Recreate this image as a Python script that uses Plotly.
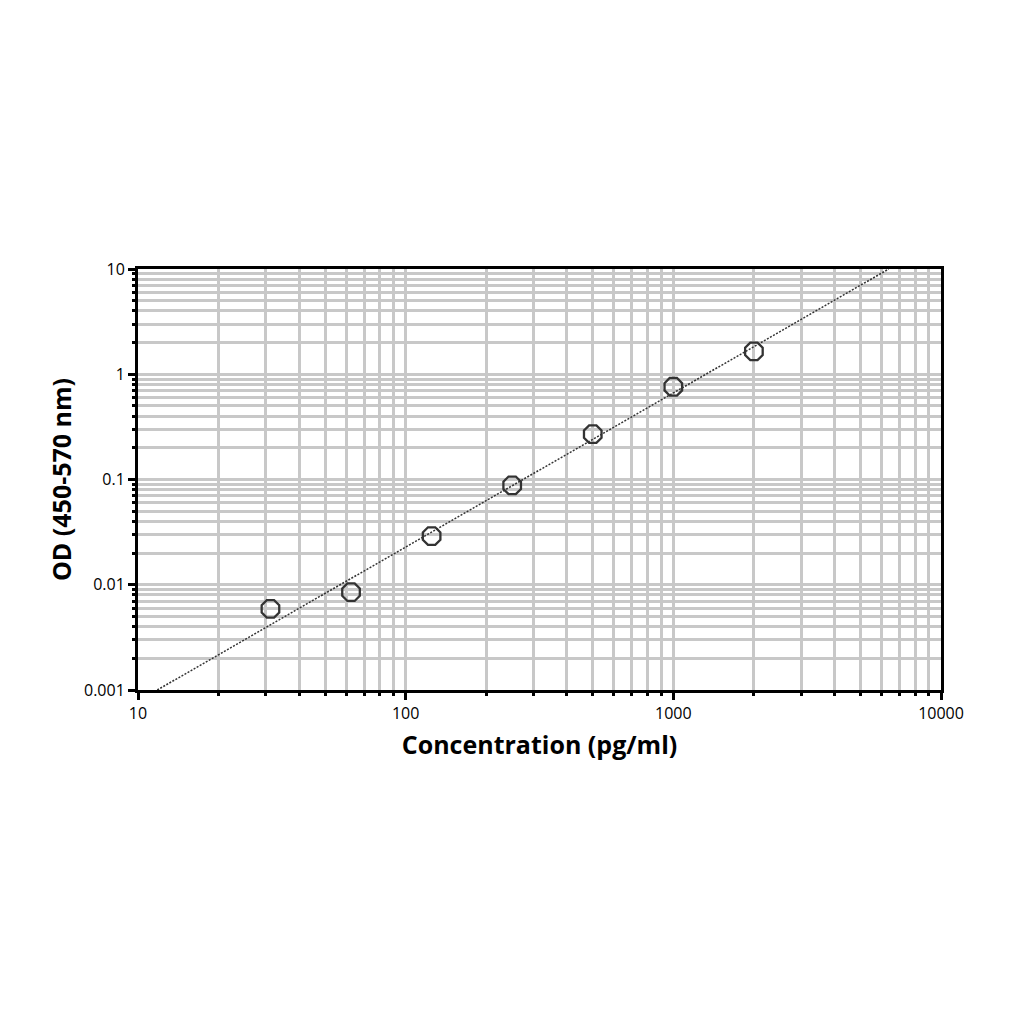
import plotly.graph_objects as go

# Standard curve points
concentration = [31.25, 62.5, 125, 250, 500, 1000, 2000]
od = [0.0059, 0.0085, 0.029, 0.088, 0.27, 0.76, 1.65]

# Fitted line end points (where it meets the plot edges)
fit_x = [11.8, 6380]
fit_y = [0.001, 10]

x_ticks = [10, 100, 1000, 10000]
x_labels = ['10', '100', '1000', '10000']
y_ticks = [0.001, 0.01, 0.1, 1, 10]
y_labels = ['0.001', '0.01', '0.1', '1', '10']

grid_grey = '#c8c8c8'
font_family = 'Open Sans'

fig = go.Figure()

fig.add_trace(go.Scatter(
    x=fit_x, y=fit_y,
    mode='lines',
    line=dict(color='#333333', width=1.5, dash='2px,1.5px'),
    hoverinfo='skip',
))

fig.add_trace(go.Scatter(
    x=concentration, y=od,
    mode='markers',
    marker=dict(symbol='octagon-open', size=19, color='#333333',
                line=dict(width=2.3, color='#333333')),
))

axis_common = dict(
    type='log',
    showline=True, linecolor='black', linewidth=3, mirror=True,
    showgrid=True, gridcolor=grid_grey, gridwidth=2.5,
    ticks='outside', ticklen=7, tickwidth=2.5, tickcolor='black',
    tickfont=dict(family=font_family, size=16, color='black'),
    zeroline=False,
    minor=dict(dtick='D1', showgrid=True, gridcolor=grid_grey, gridwidth=2.5,
               ticks='outside', ticklen=3, tickwidth=2.5, tickcolor='black'),
)

# the page body adds an 8px offset, margins compensate for it
fig.update_layout(
    width=1024, height=1024,
    margin=dict(l=130, r=91, t=261, b=342, pad=0),
    plot_bgcolor='white', paper_bgcolor='white',
    showlegend=False,
    font=dict(family=font_family),
    xaxis=dict(
        axis_common,
        range=[1, 4],
        tickvals=x_ticks, ticktext=x_labels,
        title=dict(text='<b>Concentration (pg/ml)</b>',
                   font=dict(family=font_family, size=25, color='black'),
                   standoff=14),
    ),
    yaxis=dict(
        axis_common,
        range=[-3, 1],
        tickvals=y_ticks, ticktext=y_labels,
        title=dict(text='<b>OD (450-570 nm)</b>',
                   font=dict(family=font_family, size=25, color='black'),
                   standoff=6),
    ),
)

fig.write_html('out.html')
